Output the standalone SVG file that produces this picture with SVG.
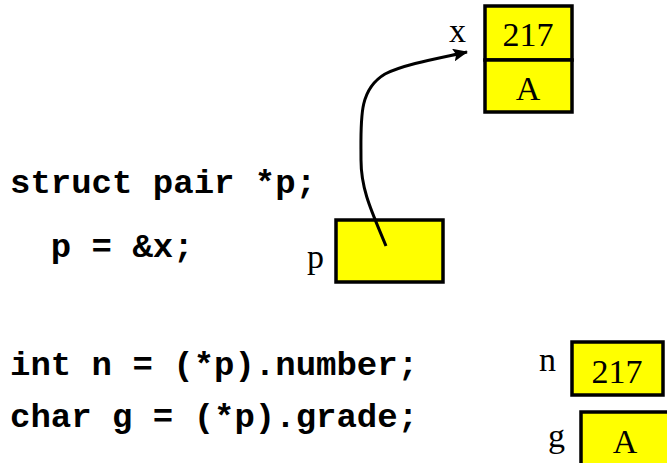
<svg xmlns="http://www.w3.org/2000/svg" width="667" height="463" viewBox="0 0 667 463">
<style>
.box{fill:#ffff00;stroke:#000;stroke-width:3.5}
.code{font-family:"Liberation Mono","Courier New",monospace;font-weight:bold;font-size:34px;fill:#000}
.ser{font-family:"Liberation Serif","Times New Roman",serif;font-size:34px;fill:#000}
.mid{text-anchor:middle}
.conn{fill:none;stroke:#000;stroke-width:3}
</style>
<defs>
<marker id="ah" markerWidth="15" markerHeight="13" refX="14" refY="6.5" orient="auto" markerUnits="userSpaceOnUse" viewBox="0 0 15 13">
<path d="M0,0 L15,6.5 L0,13 L3,6.5 Z" fill="#000"/>
</marker>
</defs>
<rect width="667" height="463" fill="#fff"/>
<g id="code">
<text class="code" x="10" y="193">struct pair *p;</text>
<text class="code" x="10" y="257" xml:space="preserve">  p = &amp;x;</text>
<text class="code" x="10" y="375">int n = (*p).number;</text>
<text class="code" x="10" y="427">char g = (*p).grade;</text>
</g>
<g id="x">
<rect class="box" x="485" y="6" width="87" height="54"/>
<rect class="box" x="485" y="60" width="87" height="52"/>
<text class="ser mid" x="528" y="46">217</text>
<text class="ser mid" x="528" y="100">A</text>
<text class="ser" x="449" y="42">x</text>
</g>
<g id="p">
<rect class="box" x="336" y="220" width="107" height="62"/>
<text class="ser" x="307" y="268">p</text>
</g>
<g id="n">
<rect class="box" x="572" y="342" width="91" height="53"/>
<text class="ser mid" x="617" y="383">217</text>
<text class="ser" x="539" y="371">n</text>
</g>
<g id="g">
<rect class="box" x="581" y="412" width="100" height="60"/>
<text class="ser mid" x="625" y="453">A</text>
<text class="ser" x="548" y="447">g</text>
</g>
<g id="connectors">
<path class="conn" d="M386,246 C372,212 361,190 361,160 C361,120 358,90 385,74 C405,64 440,58 467,52" marker-end="url(#ah)"/>
</g>
</svg>
